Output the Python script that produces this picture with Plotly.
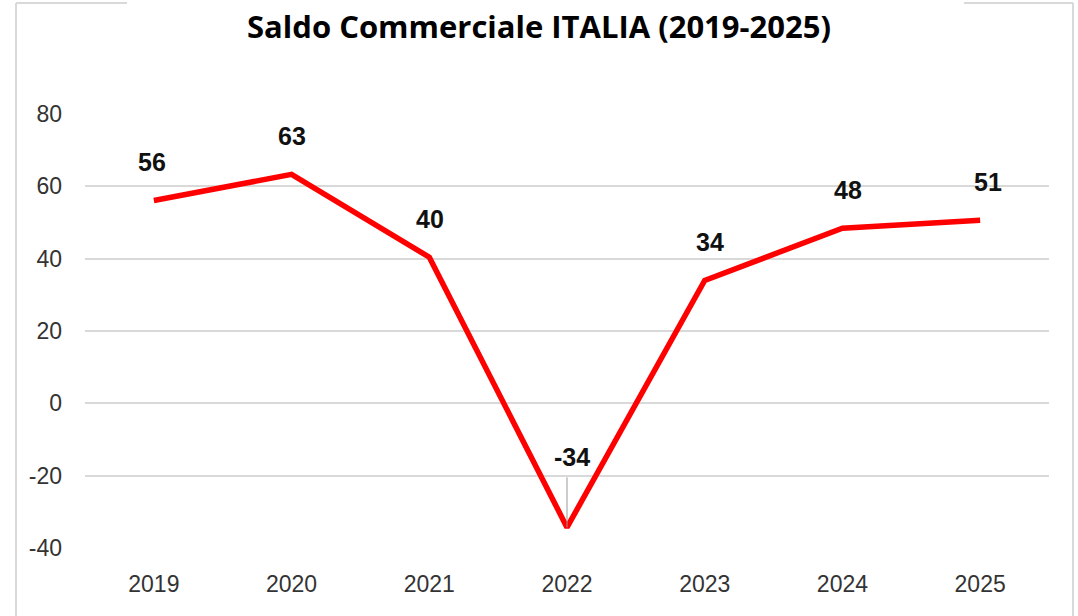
import plotly.graph_objects as go

years = ["2019", "2020", "2021", "2022", "2023", "2024", "2025"]
saldo = [56.1, 63.3, 40.4, -34.3, 34.0, 48.4, 50.6]
labels = ["56", "63", "40", "-34", "34", "48", "51"]
y_ticks = [-40, -20, 0, 20, 40, 60, 80]
y_tick_text = ["-40", "-20", "0", "20", "40", "60", "80"]

W, H = 1078, 616
ML, MR, MT, MB = 85, 29, 114, 68
PW, PH = W - ML - MR, H - MT - MB


def px(x):
    return (x - ML) / PW


def py(y):
    return (H - MB - y) / PH


fig = go.Figure()
fig.add_trace(go.Scatter(
    x=list(range(len(years))), y=saldo, mode="lines",
    line=dict(color="#ff0000", width=5.5),
    hoverinfo="skip", showlegend=False,
))

label_font = dict(family="Liberation Sans Narrow, Arial Narrow, Liberation Sans, sans-serif", size=25, color="#111111")
xoff = [-2, 0, 1, 5, 5, 6, 8]
yoff = [38, 38, 38, 70, 38, 38, 38]
for i, (v, t) in enumerate(zip(saldo, labels)):
    fig.add_annotation(x=i, y=v, xref="x", yref="y", text="<b>" + t + "</b>", showarrow=False,
                       xshift=xoff[i], yshift=yoff[i], font=label_font)

# leader line for the -34 label
fig.add_shape(type="line", xref="x", yref="y", ysizemode="pixel", yanchor=saldo[3],
              x0=3, x1=3, y0=0, y1=50, line=dict(color="#999999", width=1))

# outer chart frame, interrupted by the title
frame = dict(type="line", xref="paper", yref="paper", line=dict(color="#d9d9d9", width=2), layer="below")
fig.add_shape(**frame, x0=px(16), x1=px(16), y0=py(3), y1=py(H + 5))
fig.add_shape(**frame, x0=px(1073), x1=px(1073), y0=py(3), y1=py(H + 5))
fig.add_shape(**frame, x0=px(16), x1=px(127), y0=py(3), y1=py(3))
fig.add_shape(**frame, x0=px(964), x1=px(1073), y0=py(3), y1=py(3))

tick_font = dict(family="Liberation Sans Narrow, Arial Narrow, Liberation Sans, sans-serif", size=23, color="#333333")
fig.update_layout(
    width=W, height=H,
    margin=dict(l=ML, r=MR, t=MT, b=MB),
    paper_bgcolor="white", plot_bgcolor="white",
    title=dict(text="<b>Saldo Commerciale ITALIA (2019-2025)</b>", x=0.5, xref="container",
               xanchor="center", y=1 - 27 / H, yanchor="middle",
               font=dict(family="Open Sans, sans-serif", size=31, color="#000000")),
    xaxis=dict(range=[-0.5, 6.5], tickvals=list(range(len(years))), ticktext=years,
               showgrid=False, zeroline=False, showline=False, ticks="", ticklabelstandoff=20,
               tickfont=tick_font),
    yaxis=dict(range=[-40, 80], tickvals=y_ticks, ticktext=y_tick_text, showgrid=True, gridcolor="#d9d9d9",
               gridwidth=2, zeroline=False, showline=False, ticks="", ticklabelstandoff=22,
               tickfont=tick_font),
)

fig.write_html("out.html", config={"displayModeBar": False},
               post_script="document.body.style.margin='0';")
